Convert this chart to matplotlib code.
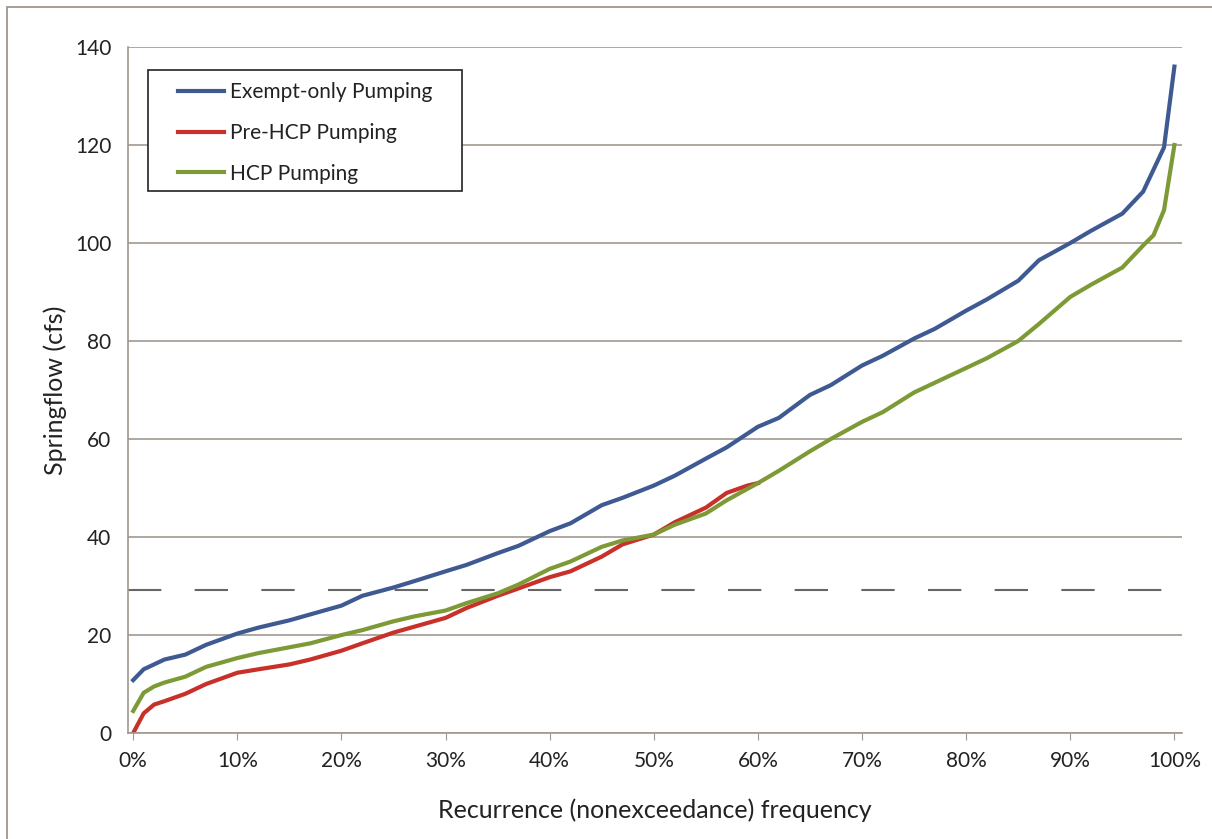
import matplotlib.pyplot as plt
from matplotlib.ticker import FuncFormatter
from matplotlib.patches import Rectangle

plt.rcParams['font.family'] = ['Lato', 'DejaVu Sans']

# Data (percent nonexceedance, springflow cfs)
freq = [0, 1, 2, 3, 5, 7, 10, 12, 15, 17, 20, 22, 25, 27, 30, 32, 35, 37, 40, 42,
        45, 47, 50, 52, 55, 57, 60, 62, 65, 67, 70, 72, 75, 77, 80, 82, 85, 87, 90,
        92, 95, 97, 98, 99, 100]
exempt_only = [10.8, 13, 14, 15, 16, 18, 20.3, 21.5, 23, 24.2, 26, 28, 29.7, 31, 33,
               34.3, 36.7, 38.2, 41.2, 42.8, 46.5, 48, 50.5, 52.5, 56, 58.3, 62.5,
               64.3, 69, 71, 75, 77, 80.5, 82.5, 86.2, 88.5, 92.3, 96.5, 100, 102.5,
               106, 110.5, 115, 119.5, 136]
hcp = [4.5, 8.2, 9.5, 10.3, 11.5, 13.5, 15.3, 16.3, 17.5, 18.3, 20, 21, 22.8, 23.8,
       25, 26.5, 28.5, 30.3, 33.5, 35, 38, 39.3, 40.5, 42.5, 44.8, 47.5, 51, 53.5,
       57.5, 60, 63.5, 65.5, 69.5, 71.5, 74.5, 76.5, 80, 83.5, 89, 91.5, 95, 99.5,
       101.6, 106.7, 120]
pre_hcp_freq = [0, 1, 2, 3, 5, 7, 10, 12, 15, 17, 20, 22, 25, 27, 30, 32, 35, 37, 40,
                42, 45, 47, 50, 52, 55, 57, 59, 60]
pre_hcp = [0, 4, 5.8, 6.5, 8, 10, 12.3, 13, 14, 15, 16.8, 18.3, 20.5, 21.7, 23.5,
           25.5, 28, 29.5, 31.8, 33, 36, 38.5, 40.5, 43, 46, 49, 50.5, 51]
threshold = 29.2

fig = plt.figure(figsize=(12.12, 8.39), dpi=100)
fig.patches.append(Rectangle((0.006, -0.1), 1.2, 1.092, transform=fig.transFigure,
                             fill=False, edgecolor='#9a8c84', linewidth=1.2))
ax = fig.add_axes([0.1056, 0.1263, 0.8694, 0.8177])

ax.plot(freq, exempt_only, color='#3f5a92', lw=3, label='Exempt-only Pumping',
        solid_joinstyle='round')
ax.plot(pre_hcp_freq, pre_hcp, color='#c8302a', lw=3, label='Pre-HCP Pumping',
        solid_joinstyle='round')
ax.plot(freq, hcp, color='#7e9a36', lw=3, label='HCP Pumping', solid_joinstyle='round')
ax.axhline(threshold, color='#666666', lw=1.5, dashes=(16, 16), zorder=1)

ax.set_xlim(-0.5, 100.7)
ax.set_ylim(0, 140)
ax.set_xticks(range(0, 101, 10))
ax.set_yticks(range(0, 141, 20))
ax.xaxis.set_major_formatter(FuncFormatter(lambda v, p: f'{int(v)}%'))
ax.grid(axis='y', color='#a09890', lw=1.2)
ax.set_axisbelow(True)
for s in ['top', 'right']:
    ax.spines[s].set_visible(False)
for s in ['left', 'bottom']:
    ax.spines[s].set_color('#a09890')
    ax.spines[s].set_linewidth(1.2)
ax.tick_params(axis='x', colors='#a09890', labelcolor='#222222', labelsize=15,
               length=5, pad=8)
ax.tick_params(axis='y', length=0, labelsize=15, labelcolor='#222222', pad=12)

ax.set_xlabel('Recurrence (nonexceedance) frequency', fontsize=18, color='#222222',
              labelpad=20)
ax.set_ylabel('Springflow (cfs)', fontsize=18, color='#222222', labelpad=6)

# legend box drawn by hand so the padding matches the original
ax.add_patch(Rectangle((0.019, 0.79), 0.298, 0.176, transform=ax.transAxes,
                       facecolor='white', edgecolor='#222222', lw=1.2, zorder=5))
leg = ax.legend(loc='upper left', bbox_to_anchor=(0.0474, 0.949), borderaxespad=0,
                fontsize=15, frameon=False, borderpad=0, handlelength=2.2,
                labelspacing=1.0, handletextpad=0.3)
leg.set_zorder(6)
for t in leg.get_texts():
    t.set_color('#222222')

fig.savefig('out.png', dpi=100)
